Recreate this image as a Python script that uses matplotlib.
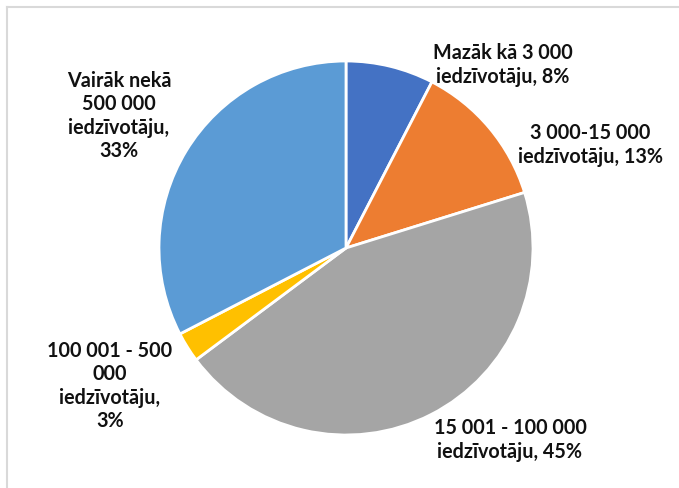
import matplotlib
matplotlib.use("Agg")
import matplotlib.pyplot as plt
from matplotlib.lines import Line2D

# DATA
##############################################################################
categories = ["Mazāk kā 3 000\niedzīvotāju",
              "3 000-15 000\niedzīvotāju",
              "15 001 - 100 000\niedzīvotāju",
              "100 001 - 500\n000\niedzīvotāju",
              "Vairāk nekā\n500 000\niedzīvotāju"]
shares = [7.6, 12.6, 44.6, 2.6, 32.6]
separators = [", ", ", ", ", ", ",\n", ",\n"]
colors = ["#4472C4", "#ED7D31", "#A5A5A5", "#FFC000", "#5B9BD5"]

# label centres in pixels of the 679x489 picture
label_px = [(503, 65), (590, 145), (510, 440), (110, 386), (119, 116)]
##############################################################################

W, H = 679, 489
cx, cy, r = 346, 249, 187

fig = plt.figure(figsize=(W / 100, H / 100), dpi=100)
ax = fig.add_axes([(cx - r) / W, (H - cy - r) / H, 2 * r / W, 2 * r / H])

ax.pie(shares, colors=colors, startangle=90, counterclock=False, radius=1,
       wedgeprops=dict(edgecolor="white", linewidth=2))
ax.set_xlim(-1, 1)
ax.set_ylim(-1, 1)
ax.set_aspect("equal")
ax.axis("off")

for cat, sep, val, (px, py) in zip(categories, separators, shares, label_px):
    txt = f"{cat}{sep}{round(val)}%"
    ax.text((px - cx) / r, (cy - py) / r, txt, ha="center", va="center",
            fontsize=14.2, fontweight="bold", family="Lato", color="#111111",
            linespacing=1.2)

# chart-area frame (top and left edges visible)
fig.add_artist(Line2D([7 / W, 1], [1 - 8 / H, 1 - 8 / H], color="#D9D9D9", lw=1.5))
fig.add_artist(Line2D([7 / W, 7 / W], [0, 1 - 8 / H], color="#D9D9D9", lw=1.5))

fig.savefig("out.png", dpi=100)
